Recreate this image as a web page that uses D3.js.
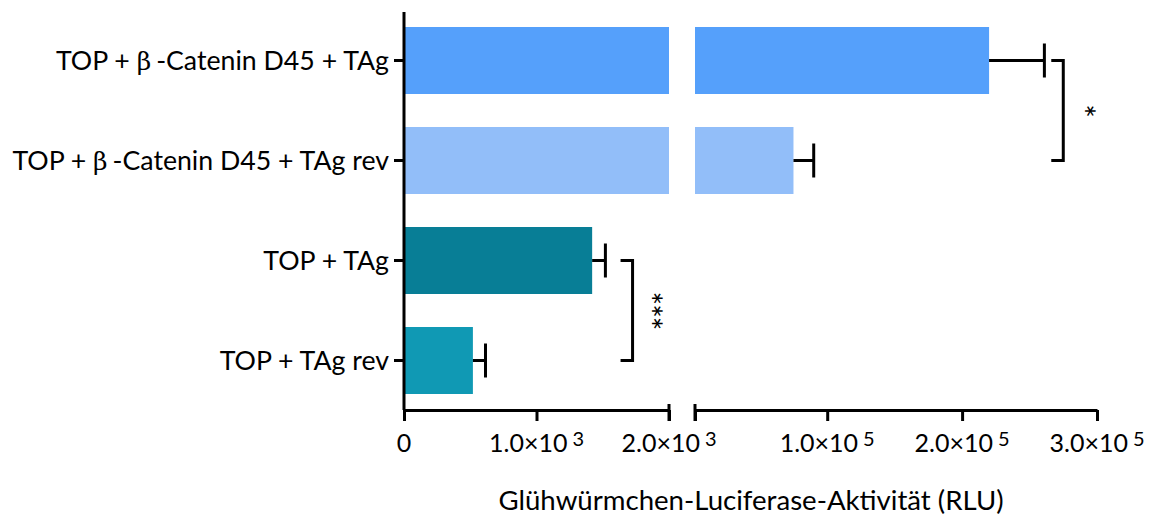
<!DOCTYPE html>
<html>
<head>
<meta charset="utf-8">
<script src="https://cdn.jsdelivr.net/npm/d3@7"></script>
<style>
  html, body { margin: 0; padding: 0; background: #fff; }
  svg text { font-family: Lato, "Open Sans", sans-serif; fill: #000; }
</style>
</head>
<body>
<svg id="chart" width="1150" height="515"></svg>
<script>
// Firefly luciferase reporter activity (RLU), mean ± SEM
const categories = [
  "TOP + β-Catenin D45 + TAg",
  "TOP + β-Catenin D45 + TAg rev",
  "TOP + TAg",
  "TOP + TAg rev"
];
const means = [220000, 75000, 1420, 520];
const sems = [41000, 15000, 100, 95];
const barColors = ["#55a0fb", "#92bef9", "#087e96", "#1099b4"];

// broken x axis: lower segment 0–2000, upper segment 2000–300000
const lowDomain = [0, 2000];
const highDomain = [2000, 300000];
const lowTicks = [0, 1000, 2000];
const highTicks = [100000, 200000, 300000];
const lowTickLabels = [["0", ""], ["1.0×10", "3"], ["2.0×10", "3"]];
const highTickLabels = [["1.0×10", "5"], ["2.0×10", "5"], ["3.0×10", "5"]];

// significance brackets: pairs of category indices and the marker text
const brackets = [
  { from: 0, to: 1, label: "*" },
  { from: 2, to: 3, label: "***" }
];

const svg = d3.select("#chart");
const axisY = 410;

const xLow = d3.scaleLinear().domain(lowDomain).range([404, 669]);
const xHigh = d3.scaleLinear().domain(highDomain).range([695, 1097]);
const y = d3.scaleBand().domain(categories).range([10.5, 410.5])
  .paddingInner(0.33).paddingOuter(0.165);

// bars
const bars = svg.append("g");
categories.forEach((c, i) => {
  const v = means[i];
  bars.append("rect")
    .attr("x", xLow(0))
    .attr("y", y(c))
    .attr("width", xLow(Math.min(v, lowDomain[1])) - xLow(0))
    .attr("height", y.bandwidth())
    .attr("fill", barColors[i]);
  if (v > highDomain[0]) {
    bars.append("rect")
      .attr("x", xHigh(highDomain[0]))
      .attr("y", y(c))
      .attr("width", xHigh(v) - xHigh(highDomain[0]))
      .attr("height", y.bandwidth())
      .attr("fill", barColors[i]);
  }
});

// error bars (upper side)
const err = svg.append("g").attr("stroke", "#000").attr("stroke-width", 3).attr("fill", "none");
const xAny = v => v > lowDomain[1] ? xHigh(v) : xLow(v);
categories.forEach((c, i) => {
  const cy = y(c) + y.bandwidth() / 2;
  const x0 = xAny(means[i]);
  const x1 = xAny(means[i] + sems[i]);
  err.append("line").attr("x1", x0).attr("x2", x1).attr("y1", cy).attr("y2", cy);
  err.append("line").attr("x1", x1).attr("x2", x1).attr("y1", cy - 17).attr("y2", cy + 17);
});

// x axis segments
function styleAxis(g) {
  g.select(".domain").attr("stroke", "#000").attr("stroke-width", 3);
  g.selectAll(".tick line").attr("stroke", "#000").attr("stroke-width", 3);
  g.selectAll(".tick text").remove();
}
svg.append("g").attr("transform", `translate(0,${axisY})`)
  .call(d3.axisBottom(xLow).tickValues(lowTicks).tickSize(11).tickSizeOuter(0))
  .call(styleAxis);
svg.append("g").attr("transform", `translate(0,${axisY})`)
  .call(d3.axisBottom(xHigh).tickValues([highDomain[0]].concat(highTicks)).tickSize(11).tickSizeOuter(0))
  .call(styleAxis);
// segment end caps
const caps = svg.append("g").attr("stroke", "#000").attr("stroke-width", 3);
[xLow(lowDomain[1]), xHigh(highDomain[0])].forEach(px => {
  caps.append("line").attr("x1", px).attr("x2", px).attr("y1", axisY - 6).attr("y2", axisY + 11);
});

// x tick labels with superscript exponents
function tickLabel(px, parts) {
  const t = svg.append("text")
    .attr("x", px).attr("y", 452)
    .attr("text-anchor", "middle")
    .style("font-size", "25px");
  t.append("tspan").text(parts[0]);
  if (parts[1]) {
    t.append("tspan").attr("dx", 5).attr("dy", -6).style("font-size", "20px").text(parts[1]);
  }
}
lowTicks.forEach((v, i) => tickLabel(xLow(v), lowTickLabels[i]));
highTicks.forEach((v, i) => tickLabel(xHigh(v), highTickLabels[i]));

// y axis
const yAxis = svg.append("g").attr("transform", "translate(404,0)")
  .call(d3.axisLeft(y).tickSize(10).tickSizeOuter(0));
yAxis.select(".domain").attr("stroke", "#000").attr("stroke-width", 3)
  .attr("d", `M0,12V${axisY}`);
yAxis.selectAll(".tick line").attr("stroke", "#000").attr("stroke-width", 3);
yAxis.selectAll(".tick text").remove();

// category labels, β set in a serif face
categories.forEach(c => {
  const t = svg.append("text")
    .attr("x", 389)
    .attr("y", y(c) + y.bandwidth() / 2 + 9)
    .attr("text-anchor", "end")
    .style("font-size", "26.7px");
  const parts = c.split("β");
  t.append("tspan").text(parts[0]);
  if (parts.length > 1) {
    t.append("tspan").style("font-family", "'DejaVu Serif', serif").style("font-size", "25px").text("β");
    t.append("tspan").attr("dx", 5).text(parts[1]);
  }
});

// significance brackets
const sig = svg.append("g");
brackets.forEach(b => {
  const ya = y(categories[b.from]) + y.bandwidth() / 2;
  const yb = y(categories[b.to]) + y.bandwidth() / 2;
  const xr = b.label.length > 1 ? xLow(1725) : xHigh(275000);
  sig.append("path")
    .attr("d", `M${xr - 12},${ya}H${xr}V${yb}H${xr - 12}`)
    .attr("fill", "none").attr("stroke", "#000").attr("stroke-width", 3);
  const tx = xr + (b.label.length > 1 ? 25 : 28), ty = (ya + yb) / 2;
  sig.append("text")
    .attr("transform", `translate(${tx},${ty}) rotate(90)`)
    .attr("text-anchor", "middle")
    .attr("dy", "0.62em")
    .style("font-size", "32px")
    .style("letter-spacing", "-1px")
    .text(b.label);
});

// axis title
svg.append("text")
  .attr("x", 751).attr("y", 510)
  .attr("text-anchor", "middle")
  .style("font-size", "27.6px")
  .text("Glühwürmchen-Luciferase-Aktivität (RLU)");
</script>
</body>
</html>
